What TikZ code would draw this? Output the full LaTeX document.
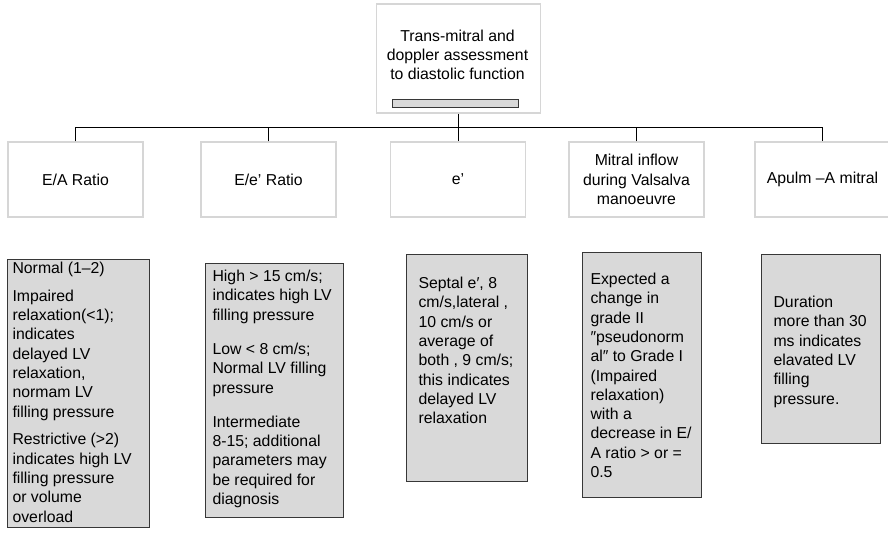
\documentclass[tikz,border=0pt]{standalone}
\usepackage{fontspec}
\setmainfont{Liberation Sans}

\definecolor{boxedge}{RGB}{214,214,214}
\definecolor{notefill}{RGB}{217,217,217}
\definecolor{noteedge}{RGB}{55,55,55}

\newcommand{\chartfont}{\fontsize{15.8pt}{19.3pt}\selectfont}
% width, height, left inset, top pad, lines
\newcommand{\notebody}[5]{\parbox[t][#2][t]{#1}{\raggedright\leftskip=#3\relax\vspace*{#4}\strut #5}}

\begin{document}
\begin{tikzpicture}[x=1pt, y=-1pt,
  every node/.style={font=\chartfont},
  head/.style={draw=boxedge, line width=1.5pt, fill=white, align=center,
    minimum width=135pt, minimum height=75pt, inner sep=0pt},
  note/.style={draw=noteedge, line width=1.1pt, fill=notefill, inner sep=0pt, anchor=north west},
  wire/.style={black, line width=1.4pt}]
\useasboundingbox (0,0) rectangle (888,538);
\def\gap{15pt}
\def\smallgap{8.5pt}
% top of the tree
\node [draw=boxedge, line width=1.5pt, minimum width=164pt, minimum height=109pt, name=root] at (458.5,58.5) {};
\node [align=center, name=title] at (457.5,55) {Trans-mitral and\\doppler assessment\\to diastolic function};
\node [draw=noteedge, line width=0.8pt, fill=notefill, minimum width=126pt, minimum height=8pt, inner sep=0pt, name=rootbar] at (455,103) {};
% second row
\node [head, name=ea]  at (75.5,179.5)  {E/A Ratio};
\node [head, name=eer] at (268.5,179.5) {E/e’ Ratio};
\node [head, name=ep]  at (458,179.5)   {e’};
\node [head, name=mv]  at (636.5,179.5) {Mitral inflow\\during Valsalva\\manoeuvre};
\node [head, name=ap]  at (822.5,179.5) {Apulm –A mitral};
% connectors
\coordinate (bus) at (458,127.5);
\draw [wire] (root.south) -- (root.south |- ep.north);
\draw [wire] (ea.north) -- (ea.north |- bus) -- (ap.north |- bus) -- (ap.north);
\draw [wire] (eer.north) -- (eer.north |- bus);
\draw [wire] (mv.north) -- (mv.north |- bus);
% grey notes
\node [note, name=eanote] at (7,259) {\notebody{142pt}{268pt}{5pt}{0.5pt}{Normal (1–2)\\[\smallgap]
  Impaired\\relaxation(<1);\\indicates\\delayed LV\\relaxation,\\normam LV\\filling pressure\\[\smallgap]
  Restrictive (>2)\\indicates high LV\\filling pressure\\or volume\\overload}};
\node [note, name=eernote] at (205,263) {\notebody{138pt}{254pt}{7pt}{4.5pt}{High > 15 cm/s;\\indicates high LV\\filling pressure\\[\gap]
  Low < 8 cm/s;\\Normal LV filling\\pressure\\[\gap]
  Intermediate\\8-15; additional\\parameters may\\be required for\\diagnosis}};
\node [note, name=epnote] at (406,254) {\notebody{121pt}{227pt}{12pt}{20.5pt}{Septal e′, 8\\cm/s,lateral ,\\10 cm/s or\\average of\\both , 9 cm/s;\\this indicates\\delayed LV\\relaxation}};
\node [note, name=mvnote] at (582,252) {\notebody{119pt}{245pt}{8pt}{18.5pt}{Expected a\\change in\\grade II\\″pseudonorm\\al″ to Grade I\\(Impaired\\relaxation)\\with a\\decrease in E/\\A ratio > or =\\0.5}};
\node [note, name=apnote] at (761,254) {\notebody{119pt}{189pt}{12pt}{39.5pt}{Duration\\more than 30\\ms indicates\\elavated LV\\filling\\pressure.}};
\end{tikzpicture}
\end{document}
